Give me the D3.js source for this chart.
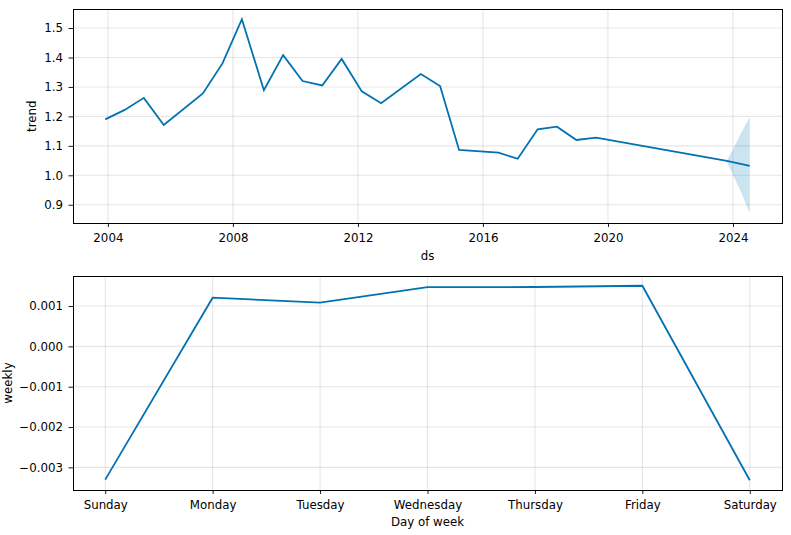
<!DOCTYPE html>
<html>
<head>
<meta charset="utf-8">
<script src="https://cdn.jsdelivr.net/npm/d3@7"></script>
<style>
  body { margin: 0; background: #fff; }
  svg text { font-family: "DejaVu Sans", sans-serif; font-size: 11.8px; fill: #000; }
</style>
</head>
<body>
<svg id="chart" width="791" height="535"></svg>
<script>
// trend component (changepoint vertices)
const trendDates = ['2003-12-01','2004-07-15','2005-02-24','2005-10-15','2007-01-15','2007-09-01',
  '2008-04-15','2008-12-28','2009-08-10','2010-03-25','2010-11-10','2011-06-25','2012-02-15',
  '2012-09-28','2014-01-05','2014-08-18','2015-03-28','2016-07-01','2017-02-10','2017-10-01',
  '2018-05-15','2018-12-28','2019-08-15','2023-10-20','2024-07-15']
const trendValues = [1.190,1.222,1.263,1.171,1.278,1.380,1.530,1.289,1.408,1.320,1.305,1.395,1.285,
  1.245,1.344,1.303,1.086,1.077,1.056,1.156,1.165,1.120,1.128,1.049,1.032]

// forecast uncertainty band
const bandDates = ['2023-10-20','2024-01-01','2024-04-01','2024-07-15']
const bandUpper = [1.050,1.088,1.142,1.196]
const bandLower = [1.046,1.001,0.946,0.871]

const trendTicks = [0.9,1.0,1.1,1.2,1.3,1.4,1.5]

// weekly component
const days = ['Sunday','Monday','Tuesday','Wednesday','Thursday','Friday','Saturday']
const weeklyValues = [-0.003304,0.001207,0.001084,0.001469,0.001472,0.001504,-0.003320]
const weeklyTicks = [-0.003,-0.002,-0.001,0.000,0.001]

const blue = '#0072B2'
const parse = d3.timeParse('%Y-%m-%d')
const svg = d3.select('#chart')

const left = 73, right = 782

// margin like matplotlib (5% each side)
const pad = (lo, hi) => { let m = (hi - lo) * 0.05; return [lo - m, hi + m] }

function frame(g, top, bottom) {
	g.append('rect')
	.attr('x', left).attr('y', top)
	.attr('width', right - left).attr('height', bottom - top)
	.attr('fill', 'none').attr('stroke', '#000').attr('stroke-width', 1)
	.attr('shape-rendering', 'crispEdges')
}

function styleAxis(a) {
	a.select('.domain').remove()
	a.selectAll('line').attr('stroke', '#000').attr('stroke-width', 0.9)
	a.selectAll('text').attr('fill', '#000').style('font-size', '11.8px')
}

// ---------- top: trend ----------
const t0 = 9.5, t1 = 223
const tData = trendDates.map((d, i) => ({ date: parse(d), v: trendValues[i] }))
const bData = bandDates.map((d, i) => ({ date: parse(d), hi: bandUpper[i], lo: bandLower[i] }))

const xd = pad(+tData[0].date, +tData[tData.length - 1].date)
const xT = d3.scaleTime().domain([new Date(xd[0]), new Date(xd[1])]).range([left, right])
const allV = trendValues.concat(bandUpper, bandLower)
const yT = d3.scaleLinear().domain(pad(d3.min(allV), d3.max(allV))).range([t1, t0])

const gT = svg.append('g')

gT.append('g').selectAll('line')
.data(trendTicks)
.enter().append('line')
.attr('x1', left).attr('x2', right)
.attr('y1', d => yT(d)).attr('y2', d => yT(d))
.attr('stroke', 'gray').attr('stroke-opacity', 0.2).attr('stroke-width', 1.1)

gT.append('g').selectAll('line')
.data(xT.ticks(d3.timeYear.every(4)))
.enter().append('line')
.attr('x1', d => xT(d)).attr('x2', d => xT(d))
.attr('y1', t0).attr('y2', t1)
.attr('stroke', 'gray').attr('stroke-opacity', 0.2).attr('stroke-width', 1.1)

gT.append('path')
.datum(bData)
.attr('d', d3.area().x(d => xT(d.date)).y0(d => yT(d.lo)).y1(d => yT(d.hi)))
.attr('fill', blue).attr('fill-opacity', 0.2)

gT.append('path')
.datum(tData)
.attr('d', d3.line().x(d => xT(d.date)).y(d => yT(d.v)))
.attr('fill', 'none').attr('stroke', blue).attr('stroke-width', 1.8)

frame(gT, t0, t1)

gT.append('g')
.attr('transform', `translate(0,${t1})`)
.call(d3.axisBottom(xT).ticks(d3.timeYear.every(4)).tickFormat(d3.timeFormat('%Y')).tickSize(4).tickPadding(7).tickSizeOuter(0))
.call(styleAxis)

gT.append('g')
.attr('transform', `translate(${left},0)`)
.call(d3.axisLeft(yT).tickValues(trendTicks).tickFormat(d3.format('.1f')).tickSize(4.5).tickPadding(5.5).tickSizeOuter(0))
.call(styleAxis)

gT.append('text')
.attr('x', (left + right) / 2).attr('y', 256).attr('dy', '0.35em')
.attr('text-anchor', 'middle').text('ds')

gT.append('text')
.attr('transform', `translate(32,${(t0 + t1) / 2}) rotate(-90)`)
.attr('dy', '0.35em').attr('text-anchor', 'middle').text('trend')

// ---------- bottom: weekly ----------
const w0 = 276, w1 = 490
const xW = d3.scaleLinear().domain(pad(0, days.length - 1)).range([left, right])
const yW = d3.scaleLinear().domain(pad(d3.min(weeklyValues), d3.max(weeklyValues))).range([w1, w0])

const gW = svg.append('g')

gW.append('g').selectAll('line')
.data(weeklyTicks)
.enter().append('line')
.attr('x1', left).attr('x2', right)
.attr('y1', d => yW(d)).attr('y2', d => yW(d))
.attr('stroke', 'gray').attr('stroke-opacity', 0.2).attr('stroke-width', 1.1)

gW.append('g').selectAll('line')
.data(days)
.enter().append('line')
.attr('x1', (d, i) => xW(i)).attr('x2', (d, i) => xW(i))
.attr('y1', w0).attr('y2', w1)
.attr('stroke', 'gray').attr('stroke-opacity', 0.2).attr('stroke-width', 1.1)

gW.append('path')
.datum(weeklyValues)
.attr('d', d3.line().x((d, i) => xW(i)).y(d => yW(d)))
.attr('fill', 'none').attr('stroke', blue).attr('stroke-width', 1.8)

frame(gW, w0, w1)

gW.append('g')
.attr('transform', `translate(0,${w1})`)
.call(d3.axisBottom(xW).tickValues(d3.range(days.length)).tickFormat(i => days[i]).tickSize(4).tickPadding(7).tickSizeOuter(0))
.call(styleAxis)

gW.append('g')
.attr('transform', `translate(${left},0)`)
.call(d3.axisLeft(yW).tickValues(weeklyTicks).tickFormat(d3.format('.3f')).tickSize(4.5).tickPadding(5.5).tickSizeOuter(0))
.call(styleAxis)

gW.append('text')
.attr('x', (left + right) / 2).attr('y', 522).attr('dy', '0.35em')
.attr('text-anchor', 'middle').text('Day of week')

gW.append('text')
.attr('transform', `translate(7.5,${(w0 + w1) / 2}) rotate(-90)`)
.attr('dy', '0.35em').attr('text-anchor', 'middle').text('weekly')
</script>
</body>
</html>
